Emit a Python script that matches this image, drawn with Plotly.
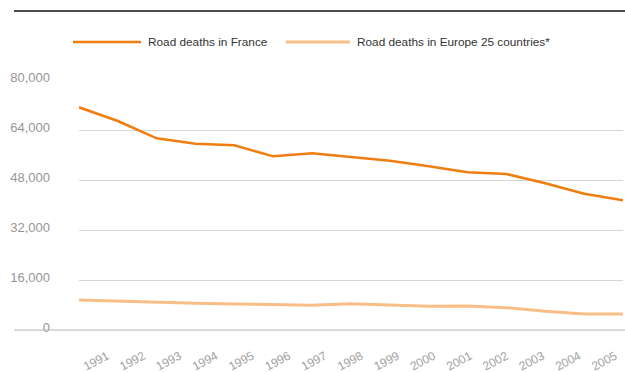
import plotly.graph_objects as go

years = [str(y) for y in range(1991, 2006)]
france_label = "Road deaths in France"
europe_label = "Road deaths in Europe 25 countries*"

# dark orange series
france = [71264, 66880, 61333, 59626, 59093, 55573, 56533, 55253,
          54187, 52373, 50453, 49920, 46933, 43627, 41493]
# light orange series
europe = [9600, 9173, 8960, 8533, 8320, 8107, 7893, 8427,
          8000, 7573, 7680, 7147, 5973, 5120, 5120]

y_ticks = [0, 16000, 32000, 48000, 64000, 80000]
y_tick_text = ["0", "16,000", "32,000", "48,000", "64,000", "80,000"]

DARK = "#f07d0f"
LIGHT = "#f9be86"
FONT = "Liberation Sans, Arial, sans-serif"

W, H = 625, 372
ML, MR, MT, MB = 79, 2, 80, 42
PW = W - ML - MR
PH = H - MT - MB
LABEL_STEP = 36.3  # pixel pitch of the rotated year labels


def px_x(x):
    return (x - ML) / PW


def px_y(y):
    return (H - MB - y) / PH


fig = go.Figure()
fig.add_trace(go.Scatter(x=years, y=europe, mode="lines", name=europe_label,
                         line=dict(color=LIGHT, width=3), showlegend=False))
fig.add_trace(go.Scatter(x=years, y=france, mode="lines", name=france_label,
                         line=dict(color=DARK, width=2.5), showlegend=False))
# empty trace so the year-label axis gets drawn
fig.add_trace(go.Scatter(x=[], y=[], xaxis="x2", yaxis="y", mode="lines",
                         hoverinfo="skip", showlegend=False))

shapes = [
    # rule across the top
    dict(type="line", xref="paper", yref="paper", x0=px_x(14), x1=px_x(625),
         y0=px_y(11), y1=px_y(11), line=dict(color="#111111", width=1.5)),
    # baseline
    dict(type="line", xref="paper", yref="paper", x0=px_x(14), x1=px_x(625),
         y0=0, y1=0, line=dict(color="#b4b4b4", width=1.2)),
    # legend swatches
    dict(type="line", xref="paper", yref="paper", x0=px_x(73), x1=px_x(141),
         y0=px_y(42), y1=px_y(42), line=dict(color=DARK, width=2.5)),
    dict(type="line", xref="paper", yref="paper", x0=px_x(286), x1=px_x(350),
         y0=px_y(42), y1=px_y(42), line=dict(color=LIGHT, width=3)),
]

annotations = [
    dict(text=france_label, xref="paper", yref="paper", x=px_x(146), y=px_y(42),
         xanchor="left", yanchor="middle", showarrow=False,
         font=dict(family=FONT, size=11.8, color="#333333")),
    dict(text=europe_label, xref="paper", yref="paper", x=px_x(355), y=px_y(42),
         xanchor="left", yanchor="middle", showarrow=False,
         font=dict(family=FONT, size=11.8, color="#333333")),
]

fig.update_layout(
    width=W, height=H,
    margin=dict(l=ML, r=MR, t=MT, b=MB, pad=0),
    paper_bgcolor="white", plot_bgcolor="white",
    shapes=shapes, annotations=annotations,
    showlegend=False,
    xaxis=dict(
        type="category", range=[0, len(years) - 1], automargin=False,
        showgrid=False, zeroline=False, showline=False,
        showticklabels=False, ticks="",
    ),
    # label axis: year labels on a slightly tighter pitch than the data points
    xaxis2=dict(
        type="linear", overlaying="x", side="bottom", anchor="y",
        range=[0, PW / LABEL_STEP], automargin=False,
        tickmode="array", tickvals=list(range(len(years))), ticktext=years,
        showgrid=False, zeroline=False, showline=False, ticks="",
        tickangle=-28, ticklabelshift=28, ticklabelstandoff=16,
        ticklabeloverflow="allow",
        tickfont=dict(family=FONT, size=12, color="#a0a0a0"),
    ),
    yaxis=dict(
        range=[0, 80000], tickvals=y_ticks, ticktext=y_tick_text,
        automargin=False,
        showgrid=True, gridcolor="#d6d6d6", gridwidth=1.3,
        zeroline=False, showline=False, ticks="",
        ticklabelstandoff=28, ticklabelshift=-3,
        tickfont=dict(family=FONT, size=13, color="#969696"),
    ),
)

fig.write_html("out.html")
